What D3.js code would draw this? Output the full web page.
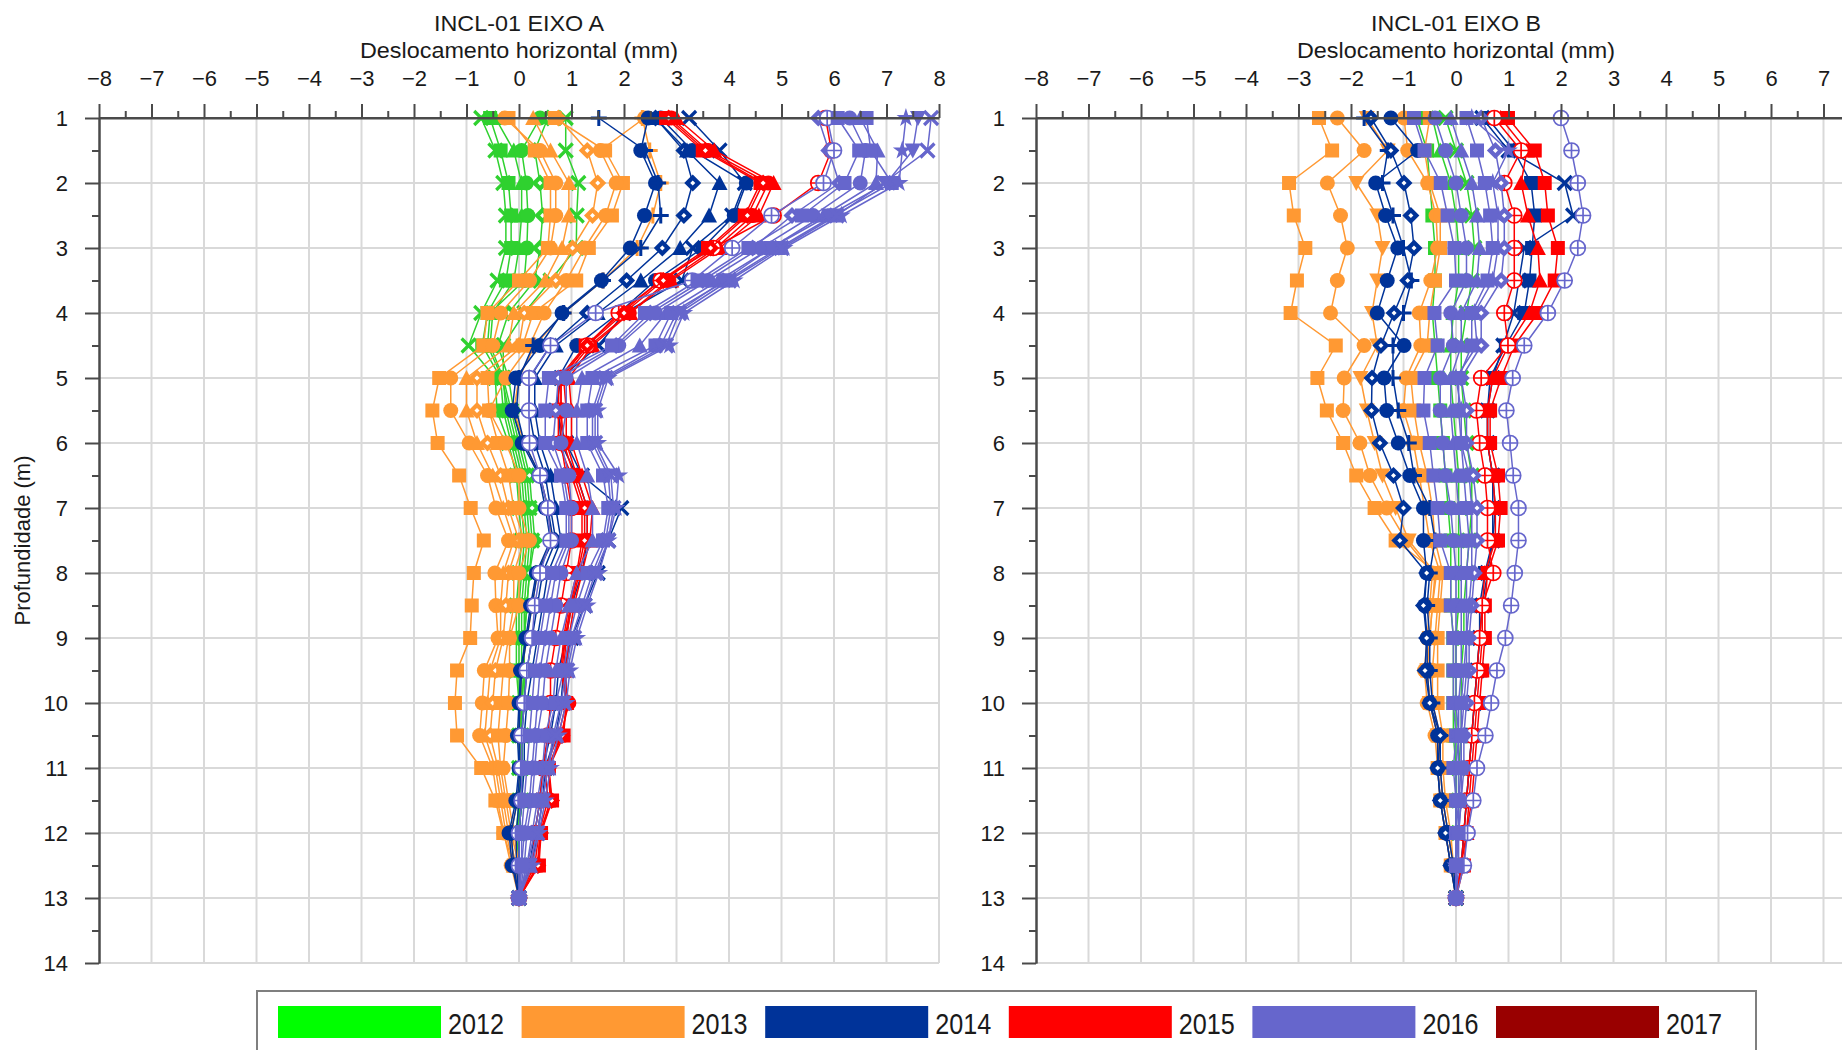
<!DOCTYPE html>
<html><head><meta charset="utf-8">
<script src="https://cdn.jsdelivr.net/npm/d3@7"></script>
<style>
body{margin:0;background:#fff;}
svg{display:block;}
text{font-family:"Liberation Sans",Arial,sans-serif;fill:#1a1a1a;}
</style>
</head><body>
<svg id="c" width="1842" height="1050"></svg>
<script>
// ---------------- DATA ----------------
const depths = [1,1.5,2,2.5,3,3.5,4,4.5,5,5.5,6,6.5,7,7.5,8,8.5,9,9.5,10,10.5,11,11.5,12,12.5,13];
const xTickValues = [-8,-7,-6,-5,-4,-3,-2,-1,0,1,2,3,4,5,6,7,8];
const yTickValues = [1,2,3,4,5,6,7,8,9,10,11,12,13,14];
const years = ["2012","2013","2014","2015","2016","2017"];
const panelTitles = ["INCL-01 EIXO A","INCL-01 EIXO B"];
const xTitle = "Deslocamento horizontal (mm)";
const yTitle = "Profundidade (m)";

// Eixo A
const eixoA_2012 = [
 [-0.72,-0.45,-0.30,-0.25,-0.25,-0.41,-0.72,-0.96,-0.45,-0.42,-0.20,-0.05,0.00,0.05,0.00,-0.05,-0.05,-0.05,0.00,0.00,0.00,0.00,-0.05,0.00,0],
 [-0.55,-0.35,-0.20,-0.15,-0.15,-0.25,-0.60,-0.70,-0.35,-0.30,-0.15,0.00,0.05,0.10,0.05,0.00,0.00,0.00,0.00,0.05,0.00,0.00,0.00,0.00,0],
 [-0.45,-0.10,0.05,0.05,0.00,-0.10,-0.50,-0.55,-0.30,-0.25,-0.10,0.05,0.10,0.15,0.10,0.05,0.05,0.05,0.05,0.05,0.05,0.00,0.00,0.00,0],
 [0.40,0.05,0.14,0.17,0.15,0.10,-0.55,-0.60,-0.32,-0.20,-0.05,0.10,0.15,0.20,0.15,0.10,0.10,0.10,0.05,0.05,0.05,0.05,0.00,0.00,0],
 [0.89,0.89,1.13,1.10,1.09,0.60,0.10,-0.30,-0.30,-0.15,0.00,0.15,0.20,0.25,0.20,0.15,0.10,0.10,0.10,0.05,0.05,0.05,0.00,0.00,0],
 [0.55,0.30,0.40,0.45,0.40,0.30,-0.20,-0.40,-0.20,-0.10,0.05,0.20,0.25,0.30,0.20,0.15,0.10,0.10,0.05,0.05,0.05,0.05,0.00,0.00,0]
];
const eixoA_2013 = [
 [-0.20,0.30,0.60,0.60,0.55,0.00,-0.60,-0.68,-1.52,-1.65,-1.55,-1.14,-0.92,-0.67,-0.86,-0.90,-0.93,-1.18,-1.22,-1.18,-0.72,-0.45,-0.30,-0.10,0],
 [-0.27,0.40,0.70,0.70,0.60,0.20,-0.35,-0.50,-1.30,-1.30,-0.95,-0.60,-0.44,-0.20,-0.46,-0.44,-0.40,-0.66,-0.70,-0.75,-0.50,-0.41,-0.29,-0.15,0],
 [0.27,0.60,0.95,0.95,0.82,0.50,-0.10,-0.20,-1.00,-1.00,-0.80,-0.50,-0.30,-0.10,-0.30,-0.35,-0.35,-0.55,-0.60,-0.65,-0.45,-0.35,-0.25,-0.10,0],
 [0.75,1.30,1.50,1.40,1.02,0.70,0.10,0.00,-0.80,-0.80,-0.60,-0.35,-0.20,0.00,-0.20,-0.25,-0.30,-0.45,-0.50,-0.55,-0.40,-0.30,-0.20,-0.05,0],
 [0.68,1.64,1.98,1.77,1.33,1.09,0.27,0.07,-0.60,-0.57,-0.40,-0.20,-0.10,0.10,-0.10,-0.10,-0.20,-0.30,-0.35,-0.40,-0.35,-0.25,-0.15,0.00,0],
 [2.39,1.55,1.85,1.65,1.25,0.90,0.48,0.20,-0.25,-0.57,-0.25,0.00,0.00,0.20,0.00,0.00,-0.18,-0.18,-0.20,-0.25,-0.30,-0.20,-0.10,0.00,0],
 [2.35,2.49,2.70,2.55,2.25,1.60,0.85,0.30,0.00,-0.10,0.10,0.40,0.55,0.62,0.35,0.25,0.15,0.05,0.02,0.00,0.02,-0.03,-0.15,-0.10,0]
];
const eixoA_2014 = [
 [2.46,2.32,2.60,2.39,2.12,1.57,0.82,0.40,-0.06,-0.13,0.06,0.38,0.50,0.60,0.33,0.22,0.13,0.03,0.00,-0.03,0.00,-0.06,-0.19,-0.13,0],
 [1.52,2.40,2.65,2.70,2.32,1.60,0.85,0.27,0.00,-0.05,0.10,0.40,0.55,0.65,0.35,0.25,0.15,0.05,0.02,0.00,0.02,-0.03,-0.15,-0.10,0],
 [2.60,3.14,3.31,3.14,2.73,2.05,1.30,0.60,0.20,0.19,0.30,0.50,0.60,0.70,0.45,0.35,0.25,0.15,0.10,0.05,0.05,0.00,-0.05,-0.05,0],
 [2.60,3.20,3.82,3.62,3.07,2.32,1.50,0.70,0.30,0.30,0.40,0.60,0.70,0.80,0.55,0.45,0.35,0.25,0.15,0.10,0.10,0.05,0.00,0.00,0],
 [3.24,3.82,4.30,4.06,3.31,3.10,2.00,1.52,0.80,0.70,0.90,1.20,1.95,1.70,1.50,1.25,1.00,0.85,0.80,0.70,0.50,0.45,0.35,0.25,0],
 [2.70,3.30,4.33,4.10,3.50,2.60,1.90,1.10,0.75,0.75,0.80,1.10,1.30,1.30,1.20,1.00,0.90,0.75,0.70,0.60,0.45,0.40,0.30,0.20,0]
];
const eixoA_2015 = [
 [2.80,3.50,4.60,4.30,3.60,2.70,1.95,1.27,0.76,0.75,0.75,1.00,1.20,1.20,1.10,0.95,0.85,0.80,0.90,0.85,0.57,0.63,0.42,0.38,0],
 [2.90,3.60,4.75,4.45,3.75,2.85,2.10,1.35,0.85,0.90,0.90,1.10,1.30,1.30,1.15,1.00,0.90,0.85,0.95,0.80,0.55,0.60,0.40,0.35,0],
 [3.00,3.72,4.85,4.57,3.82,2.90,2.12,1.40,0.95,1.00,1.00,1.20,1.40,1.35,1.20,1.05,0.95,0.90,0.90,0.75,0.50,0.55,0.38,0.30,0],
 [5.84,5.95,5.70,4.85,3.70,2.70,1.90,1.30,0.80,0.80,0.80,0.90,1.00,1.00,0.90,0.80,0.70,0.60,0.60,0.55,0.45,0.40,0.30,0.25,0],
 [2.85,3.55,4.65,4.35,3.65,2.75,2.00,1.30,0.80,0.80,0.85,1.05,1.25,1.25,1.12,0.98,0.88,0.82,0.92,0.82,0.56,0.62,0.41,0.36,0]
];
const eixoA_2016 = [
 [5.70,5.90,6.10,5.20,4.45,3.50,2.50,1.85,0.75,0.70,0.65,0.85,0.95,0.95,0.70,0.60,0.50,0.40,0.35,0.30,0.25,0.20,0.10,0.05,0],
 [5.87,6.00,5.80,4.81,4.06,3.30,1.46,0.60,0.19,0.19,0.20,0.40,0.55,0.60,0.40,0.30,0.25,0.15,0.10,0.05,0.05,0.05,0.00,0.00,0],
 [6.30,6.60,6.50,5.60,4.60,3.60,2.60,1.90,0.90,0.90,0.80,0.95,1.00,1.00,0.80,0.70,0.60,0.50,0.45,0.35,0.30,0.25,0.15,0.10,0],
 [6.50,6.83,6.80,5.80,4.80,3.80,2.80,2.30,1.20,1.10,1.10,1.30,1.40,1.40,1.10,0.95,0.80,0.70,0.65,0.50,0.45,0.35,0.25,0.15,0],
 [6.62,6.70,7.10,6.00,4.95,3.95,2.90,2.60,1.40,1.30,1.30,1.60,1.70,1.60,1.30,1.10,0.95,0.85,0.70,0.55,0.50,0.40,0.30,0.15,0],
 [7.37,7.30,7.24,6.14,5.05,4.10,3.14,2.87,1.70,1.50,1.50,1.90,1.85,1.70,1.52,1.30,1.10,0.97,0.90,0.75,0.60,0.50,0.38,0.25,0],
 [7.60,7.50,7.00,5.90,4.80,3.90,3.00,2.70,1.60,1.40,1.40,1.70,1.75,1.65,1.40,1.20,1.00,0.90,0.80,0.65,0.55,0.45,0.35,0.20,0],
 [7.85,7.78,6.95,6.05,5.00,4.00,3.05,2.80,1.65,1.45,1.45,1.75,1.80,1.70,1.45,1.25,1.05,0.92,0.85,0.70,0.55,0.45,0.35,0.20,0],
 [6.07,6.48,6.20,5.39,4.37,3.40,2.40,1.77,0.57,0.50,0.50,0.80,0.90,0.90,0.63,0.50,0.40,0.30,0.25,0.20,0.15,0.10,0.05,0.05,0]
];
const eixoA_2017 = [];

// Eixo B
const eixoB_2012 = [
 [-0.75,-0.55,-0.50,-0.45,-0.40,-0.40,-0.45,-0.40,-0.35,-0.30,-0.25,-0.20,-0.15,-0.10,-0.10,-0.10,-0.05,-0.05,-0.05,-0.05,0.00,0.00,0.00,0.00,0],
 [-0.45,-0.30,-0.10,0.00,0.05,0.05,-0.05,-0.10,-0.10,-0.05,0.00,0.05,0.05,0.05,0.05,0.05,0.00,0.00,0.00,0.00,0.00,0.00,0.00,0.00,0],
 [-0.20,0.00,0.20,0.30,0.35,0.30,0.20,0.10,0.10,0.15,0.20,0.30,0.30,0.25,0.20,0.15,0.15,0.10,0.10,0.10,0.05,0.05,0.05,0.00,0]
];
const eixoB_2013 = [
 [-2.61,-2.36,-3.18,-3.09,-2.87,-3.03,-3.15,-2.29,-2.64,-2.46,-2.15,-1.90,-1.55,-1.15,-0.37,-0.45,-0.50,-0.55,-0.50,-0.35,-0.35,-0.30,-0.20,-0.10,0],
 [-2.26,-1.75,-2.45,-2.20,-2.07,-2.26,-2.39,-1.75,-2.13,-2.15,-1.83,-1.64,-1.32,-0.95,-0.45,-0.50,-0.55,-0.60,-0.55,-0.40,-0.35,-0.30,-0.20,-0.10,0],
 [-1.70,-1.30,-1.90,-1.50,-1.40,-1.50,-1.60,-1.50,-1.82,-1.70,-1.55,-1.40,-1.15,-0.90,-0.40,-0.45,-0.50,-0.55,-0.50,-0.35,-0.30,-0.25,-0.15,-0.05,0],
 [-0.99,-0.92,-0.54,-0.38,-0.35,-0.48,-0.70,-0.67,-0.95,-1.00,-0.81,-0.70,-0.60,-0.50,-0.30,-0.35,-0.40,-0.45,-0.45,-0.30,-0.30,-0.25,-0.15,-0.05,0],
 [-0.50,-0.60,-0.50,-0.30,-0.30,-0.40,-0.50,-0.55,-0.86,-0.80,-0.70,-0.55,-0.45,-0.40,-0.25,-0.30,-0.35,-0.35,-0.35,-0.25,-0.25,-0.20,-0.10,-0.05,0]
];
const eixoB_2014 = [
 [-1.75,-1.30,-1.40,-1.20,-1.00,-0.85,-1.00,-1.20,-1.20,-1.10,-0.90,-0.80,-0.50,-0.40,-0.50,-0.55,-0.50,-0.50,-0.45,-0.30,-0.30,-0.25,-0.15,-0.05,0],
 [-1.24,-0.73,-1.53,-1.34,-1.11,-1.31,-1.50,-0.99,-1.37,-1.32,-1.10,-0.88,-0.62,-0.62,-0.56,-0.60,-0.55,-0.55,-0.50,-0.35,-0.35,-0.30,-0.20,-0.10,0],
 [-1.62,-1.24,-0.99,-0.86,-0.80,-0.92,-1.18,-1.43,-1.60,-1.61,-1.45,-1.19,-1.00,-1.07,-0.56,-0.62,-0.56,-0.59,-0.50,-0.30,-0.35,-0.30,-0.20,-0.10,0],
 [0.50,1.00,2.07,2.23,1.30,1.20,1.10,0.90,0.70,0.60,0.60,0.70,0.70,0.70,0.60,0.50,0.45,0.40,0.35,0.30,0.25,0.20,0.15,0.10,0],
 [0.60,1.10,1.43,1.50,1.45,1.40,1.30,0.95,0.65,0.60,0.60,0.70,0.75,0.70,0.55,0.45,0.45,0.40,0.35,0.30,0.25,0.20,0.15,0.10,0]
];
const eixoB_2015 = [
 [0.99,1.50,1.69,1.75,1.94,1.88,1.56,1.11,0.86,0.65,0.65,0.80,0.85,0.80,0.60,0.55,0.55,0.50,0.45,0.40,0.35,0.30,0.20,0.15,0],
 [0.85,1.35,1.24,1.37,1.56,1.60,1.40,1.00,0.70,0.60,0.60,0.70,0.75,0.75,0.55,0.50,0.50,0.45,0.40,0.35,0.30,0.25,0.20,0.10,0],
 [0.73,1.24,0.92,1.11,1.11,1.11,0.92,0.99,0.48,0.39,0.45,0.55,0.60,0.60,0.71,0.50,0.45,0.40,0.35,0.30,0.25,0.20,0.15,0.10,0]
];
const eixoB_2016 = [
 [0.30,1.00,0.70,0.80,0.80,0.70,0.35,0.40,0.00,0.10,0.10,0.25,0.30,0.30,0.30,0.25,0.20,0.20,0.15,0.10,0.10,0.10,0.05,0.00,0],
 [-0.80,-0.60,-0.29,-0.16,-0.03,0.00,-0.41,-0.35,-0.60,-0.62,-0.50,-0.43,-0.35,-0.30,-0.10,-0.10,-0.05,-0.05,-0.05,0.00,-0.05,0.00,0.00,0.00,0],
 [-0.40,-0.20,0.00,0.10,0.20,0.20,-0.10,-0.05,-0.30,-0.30,-0.25,-0.20,-0.10,-0.05,0.00,0.00,0.00,0.00,0.00,0.05,0.00,0.00,0.00,0.00,0],
 [-0.10,0.10,0.30,0.40,0.45,0.40,0.10,0.10,-0.10,-0.10,-0.05,0.00,0.05,0.10,0.10,0.10,0.10,0.10,0.05,0.05,0.05,0.05,0.00,0.00,0],
 [0.48,0.75,0.86,0.92,0.92,0.86,0.48,0.48,0.10,0.20,0.20,0.33,0.40,0.40,0.35,0.30,0.25,0.25,0.20,0.15,0.15,0.10,0.05,0.05,0],
 [2.00,2.20,2.32,2.42,2.32,2.07,1.75,1.30,1.08,0.96,1.03,1.09,1.19,1.19,1.12,1.05,0.94,0.78,0.67,0.56,0.40,0.33,0.22,0.15,0],
 [0.20,0.40,0.55,0.65,0.70,0.60,0.30,0.30,0.05,0.05,0.10,0.15,0.20,0.25,0.20,0.20,0.20,0.15,0.10,0.10,0.10,0.05,0.05,0.00,0]
];
const eixoB_2017 = [];

// ---------------- STYLE ----------------
const lineColors = {"2012":"#2fd12f","2013":"#ff9933","2014":"#003399","2015":"#ff0000","2016":"#6666cc","2017":"#990000"};
const legendColors = {"2012":"#00ff00","2013":"#ff9933","2014":"#003399","2015":"#ff0000","2016":"#6666cc","2017":"#990000"};
const markerSets = {
  A: {"2012":["x","square","triangle","circle","x","diamond"],
      "2013":["square","circle","triangle","diamond","square","circle","plus"],
      "2014":["circle","plus","diamond","triangle","x","circle"],
      "2015":["square","circle","triangle","cplus","diamond"],
      "2016":["diamond","cplus","circle","triangle","square","star","tridown","x","square"],
      "2017":[]},
  B: {"2012":["square","triangle","x"],
      "2013":["square","circle","tridown","circle","square"],
      "2014":["plus","circle","diamond","x","square"],
      "2015":["square","triangle","cplus"],
      "2016":["star","square","circle","triangle","diamond","cplus","square"],
      "2017":[]}
};

// ---------------- DRAW ----------------
const W = 1842;
const svg = d3.select("#c");
const y = d3.scaleLinear().domain([1,14]).range([118,963]);
const panels = [
  {key:"A", x:d3.scaleLinear().domain([-8,8]).range([99,939]), data:{"2012":eixoA_2012,"2013":eixoA_2013,"2014":eixoA_2014,"2015":eixoA_2015,"2016":eixoA_2016,"2017":eixoA_2017}, title:panelTitles[0], ylab:true},
  {key:"B", x:d3.scaleLinear().domain([-8,8]).range([1036,1876]), data:{"2012":eixoB_2012,"2013":eixoB_2013,"2014":eixoB_2014,"2015":eixoB_2015,"2016":eixoB_2016,"2017":eixoB_2017}, title:panelTitles[1], ylab:false}
];
const axisColor = "#4a4a4a", gridColor = "#d9d9d9";
const minorX = d3.range(-7.5, 8, 1);
const minorY = d3.range(1.5, 14, 1);

function drawMarker(g, type, color, cx, cy){
  const s = 7;
  const t = g.append("g").attr("transform", `translate(${cx},${cy})`);
  switch(type){
    case "square": t.append("rect").attr("x",-s).attr("y",-s).attr("width",2*s).attr("height",2*s).attr("fill",color); break;
    case "circle": t.append("circle").attr("r",s+0.5).attr("fill",color); break;
    case "triangle": t.append("path").attr("d",`M0,${-s-1}L${s+1},${s}L${-s-1},${s}Z`).attr("fill",color); break;
    case "tridown": t.append("path").attr("d",`M0,${s+1}L${s+1},${-s}L${-s-1},${-s}Z`).attr("fill",color); break;
    case "diamond":
      t.append("path").attr("d",`M0,${-s-1.5}L${s+1.5},0L0,${s+1.5}L${-s-1.5},0Z`).attr("fill",color);
      t.append("path").attr("d",`M0,-2.5L2.5,0L0,2.5L-2.5,0Z`).attr("fill","#fff"); break;
    case "plus": t.append("path").attr("d",`M${-s-1},0H${s+1}M0,${-s-1}V${s+1}`).attr("stroke",color).attr("stroke-width",3); break;
    case "x": t.append("path").attr("d",`M${-s},${-s}L${s},${s}M${s},${-s}L${-s},${s}`).attr("stroke",color).attr("stroke-width",3.2); break;
    case "star": t.append("path").attr("d",d3.symbol(d3.symbolStar, 110)()).attr("fill",color); break;
    case "cplus":
      t.append("circle").attr("r",s+0.5).attr("fill","#fff").attr("stroke",color).attr("stroke-width",1.7);
      t.append("path").attr("d",`M${-s-0.5},0H${s+0.5}M0,${-s-0.5}V${s+0.5}`).attr("stroke",color).attr("stroke-width",1.7); break;
  }
}

panels.forEach(p=>{
  const x = p.x;
  const g = svg.append("g");
  // grid
  g.append("g").selectAll("line").data(xTickValues.filter(v=>v>-8)).join("line")
    .attr("x1",d=>x(d)).attr("x2",d=>x(d)).attr("y1",y(1)).attr("y2",y(14))
    .attr("stroke",gridColor).attr("stroke-width",2);
  g.append("g").selectAll("line").data(yTickValues.filter(v=>v>1)).join("line")
    .attr("x1",x(-8)).attr("x2",x(8)).attr("y1",d=>y(d)).attr("y2",d=>y(d))
    .attr("stroke",gridColor).attr("stroke-width",2);

  // series
  const line = d3.line().x(d=>x(d)).y((d,i)=>y(depths[i]));
  const sg = g.append("g");
  years.forEach(yr=>{
    const arr = p.data[yr];
    const mk = markerSets[p.key][yr];
    arr.forEach((vals,si)=>{
      const col = lineColors[yr];
      sg.append("path").attr("d",line(vals)).attr("fill","none").attr("stroke",col).attr("stroke-width",1.5);
      vals.forEach((v,i)=> drawMarker(sg, mk[si % mk.length], col, x(v), y(depths[i])));
    });
  });

  // axes (labels only for ticks that fall inside the picture)
  const visTicks = xTickValues.filter(v=>x(v)+8 <= W);
  const ax = g.append("g").attr("transform",`translate(0,${y(1)})`)
    .call(d3.axisTop(x).tickValues(visTicks).tickSize(14).tickSizeOuter(0).tickPadding(18).tickFormat(d3.format("d")));
  const axm = g.append("g").attr("transform",`translate(0,${y(1)})`)
    .call(d3.axisTop(x).tickValues(minorX).tickSize(7).tickSizeOuter(0).tickFormat(""));
  const ay = g.append("g").attr("transform",`translate(${x(-8)},0)`)
    .call(d3.axisLeft(y).tickValues(yTickValues).tickSize(14).tickSizeOuter(0).tickPadding(17).tickFormat(d3.format("d")));
  const aym = g.append("g").attr("transform",`translate(${x(-8)},0)`)
    .call(d3.axisLeft(y).tickValues(minorY).tickSize(7).tickSizeOuter(0).tickFormat(""));
  [ax,axm,ay,aym].forEach(a=>{
    a.selectAll("path.domain").attr("stroke",axisColor).attr("stroke-width",2);
    a.selectAll(".tick line").attr("stroke",axisColor).attr("stroke-width",2);
    a.selectAll(".tick text").attr("font-size",22).attr("fill","#1a1a1a").attr("font-family",'"Liberation Sans",Arial,sans-serif');
  });
  ax.selectAll(".tick text").attr("dy","0em");
  ax.select("path.domain").attr("d",`M${x(-8)},0H${x(8)}`);

  // titles
  g.append("text").attr("x",x(0)).attr("y",31).attr("text-anchor","middle").attr("font-size",22)
    .attr("textLength",170).attr("lengthAdjust","spacingAndGlyphs").text(p.title);
  g.append("text").attr("x",x(0)).attr("y",58).attr("text-anchor","middle").attr("font-size",22)
    .attr("textLength",318).attr("lengthAdjust","spacingAndGlyphs").text(xTitle);
  if(p.ylab){
    g.append("text").attr("transform",`translate(30,${(y(1)+y(14))/2}) rotate(-90)`).attr("text-anchor","middle")
      .attr("font-size",22).text(yTitle);
  }
});

// legend
const lg = svg.append("g");
lg.append("rect").attr("x",257).attr("y",991).attr("width",1499).attr("height",80)
  .attr("fill","#fff").attr("stroke","#7f7f7f").attr("stroke-width",2);
const legX = d3.scalePoint().domain(years).range([278,1496]);
years.forEach(yr=>{
  const lx = legX(yr);
  lg.append("rect").attr("x",lx).attr("y",1006).attr("width",163).attr("height",32).attr("fill",legendColors[yr]);
  lg.append("text").attr("x",lx+170).attr("y",1034).attr("font-size",30)
    .attr("textLength",56).attr("lengthAdjust","spacingAndGlyphs").text(yr);
});
</script>
</body></html>
